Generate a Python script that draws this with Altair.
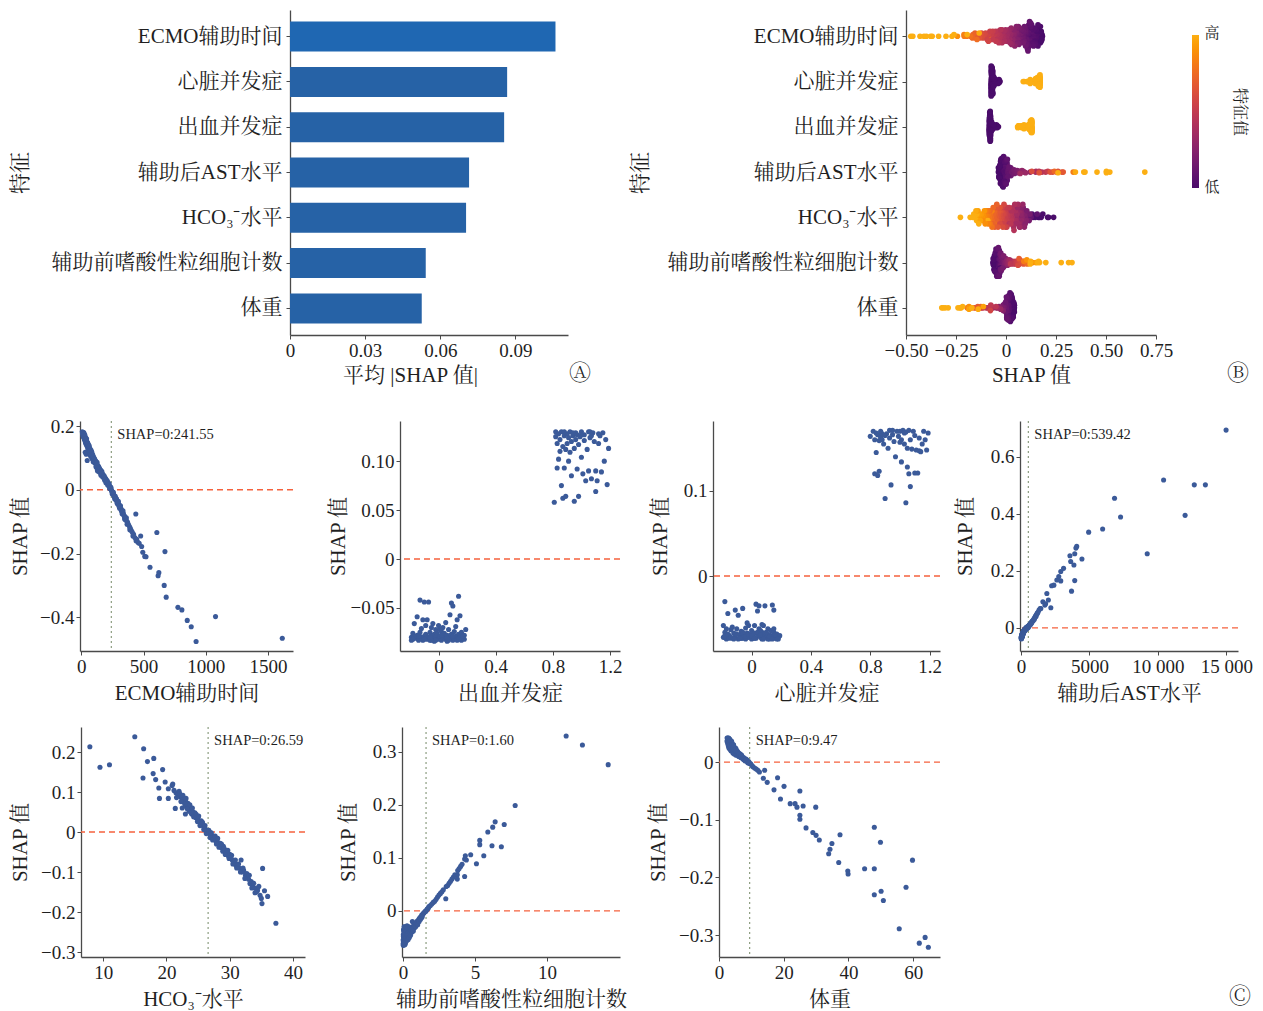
import json

import altair as alt
import numpy as np
import pandas as pd

FONT = "Liberation Serif, Noto Serif CJK SC, Noto Sans CJK SC, serif"
INK = "#1f1f1f"
SPINE = "#4a4a4a"
DOT = "#3b5a99"
ZERO_LINE = "#f5623e"
THRESH_LINE = "#8c9d80"

# Features ordered by importance
FEATURES = ["ECMO辅助时间", "心脏并发症", "出血并发症", "辅助后AST水平",
            "HCO₃⁻水平", "辅助前嗜酸性粒细胞计数", "体重"]
MEAN_ABS_SHAP = [0.1060, 0.0867, 0.0855, 0.0715, 0.0703, 0.0542, 0.0526]

# (feature value, SHAP value) per patient
ECMO_POINTS = [
    (8, 0.182), (12, 0.180), (14, 0.168), (15, 0.178), (18, 0.176), (20, 0.180), (22, 0.172), (24, 0.162),
    (25, 0.170), (28, 0.168), (30, 0.160), (32, 0.118), (33, 0.150), (35, 0.164), (38, 0.158), (40, 0.112),
    (42, 0.155), (44, 0.140), (45, 0.150), (48, 0.092), (50, 0.148), (52, 0.120), (54, 0.130), (55, 0.142),
    (58, 0.138), (60, 0.140), (62, 0.115), (65, 0.132), (66, 0.118), (68, 0.130), (70, 0.125), (72, 0.110),
    (75, 0.122), (76, 0.105), (78, 0.118), (80, 0.120), (84, 0.112), (86, 0.098), (88, 0.108), (90, 0.100),
    (95, 0.104), (96, 0.088), (100, 0.098), (105, 0.092), (108, 0.085), (110, 0.094), (115, 0.085), (118, 0.072),
    (120, 0.080), (125, 0.082), (128, 0.066), (130, 0.060), (135, 0.075), (138, 0.058), (140, 0.072), (145, 0.068),
    (148, 0.055), (150, 0.064), (155, 0.062), (158, 0.046), (160, 0.052), (165, 0.058), (170, 0.050), (172, 0.040),
    (175, 0.046), (180, 0.045), (185, 0.040), (188, 0.030), (190, 0.038), (195, 0.035), (198, 0.022), (200, 0.032),
    (205, 0.028), (210, 0.024), (212, 0.015), (215, 0.022), (220, 0.018), (225, 0.014), (228, 0.004), (230, 0.010),
    (235, 0.006), (240, 0.002), (245, -0.004), (248, -0.012), (250, -0.006), (255, -0.012), (260, -0.015),
    (265, -0.018), (268, -0.028), (270, -0.022), (275, -0.026), (280, -0.030), (285, -0.034), (288, -0.042),
    (290, -0.036), (295, -0.040), (300, -0.045), (305, -0.048), (308, -0.058), (310, -0.052), (318, -0.058),
    (325, -0.064), (328, -0.075), (330, -0.070), (338, -0.074), (345, -0.082), (348, -0.092), (350, -0.085),
    (358, -0.090), (365, -0.098), (368, -0.108), (372, -0.102), (380, -0.110), (388, -0.116), (390, -0.125),
    (395, -0.122), (402, -0.128), (410, -0.133), (415, -0.145), (420, -0.140), (430, -0.150), (438, -0.076),
    (440, -0.160), (445, -0.155), (455, -0.165), (465, -0.168), (477, -0.145), (485, -0.178), (494, -0.196),
    (510, -0.209), (520, -0.210), (552, -0.243), (607, -0.134), (617, -0.270), (623, -0.260), (666, -0.300),
    (672, -0.194), (682, -0.337), (776, -0.369), (808, -0.377), (851, -0.410), (883, -0.430), (922, -0.476),
    (1078, -0.398), (1614, -0.466),
    (10, 0.176), (16, 0.172), (19, 0.165), (23, 0.176), (26, 0.158), (29, 0.172), (31, 0.155), (34, 0.160),
    (36, 0.145), (39, 0.152), (41, 0.146), (43, 0.160), (46, 0.138), (49, 0.144), (51, 0.135), (53, 0.146),
    (56, 0.128), (59, 0.132), (61, 0.126), (63, 0.138), (67, 0.124), (69, 0.116), (71, 0.128), (74, 0.114),
    (77, 0.112), (79, 0.124), (82, 0.108), (85, 0.118), (89, 0.102), (92, 0.110), (94, 0.096), (98, 0.104),
    (102, 0.092), (106, 0.098), (112, 0.088), (116, 0.090), (122, 0.078), (127, 0.086), (132, 0.070),
    (137, 0.068), (142, 0.064), (147, 0.062), (152, 0.058), (157, 0.056), (162, 0.048), (167, 0.052),
    (178, 0.040), (183, 0.044), (192, 0.032), (202, 0.026), (208, 0.028), (218, 0.014), (223, 0.020),
    (233, 0.004), (238, 0.008), (243, -0.002), (253, -0.010), (258, -0.008), (263, -0.020), (273, -0.020),
    (278, -0.032), (283, -0.028), (293, -0.044), (298, -0.036), (303, -0.052), (315, -0.050), (322, -0.066),
    (335, -0.066), (342, -0.080), (355, -0.094), (362, -0.088),
]

# binary features: x already carries the display jitter around 0 and 1
BLEEDING_POINTS = [
    (-0.19, -0.080), (-0.18, -0.076), (-0.17, -0.066), (-0.16, -0.081), (-0.15, -0.078), (-0.15, -0.059),
    (-0.14, -0.083), (-0.13, -0.042), (-0.13, -0.075), (-0.12, -0.080), (-0.12, -0.071), (-0.11, -0.083),
    (-0.10, -0.044), (-0.10, -0.079), (-0.09, -0.077), (-0.09, -0.068), (-0.08, -0.082), (-0.08, -0.062),
    (-0.07, -0.044), (-0.07, -0.080), (-0.06, -0.075), (-0.06, -0.083), (-0.05, -0.070), (-0.05, -0.079),
    (-0.04, -0.081), (-0.04, -0.066), (-0.03, -0.077), (-0.03, -0.084), (-0.02, -0.072), (-0.02, -0.080),
    (-0.01, -0.076), (0.00, -0.082), (0.00, -0.068), (0.01, -0.079), (0.02, -0.074), (0.02, -0.083),
    (0.03, -0.070), (0.03, -0.080), (0.04, -0.076), (0.05, -0.082), (0.05, -0.065), (0.06, -0.078),
    (0.06, -0.084), (0.07, -0.072), (0.08, -0.080), (0.08, -0.057), (0.09, -0.077), (0.09, -0.045),
    (0.10, -0.083), (0.10, -0.048), (0.11, -0.074), (0.11, -0.081), (0.12, -0.069), (0.12, -0.079),
    (0.13, -0.083), (0.13, -0.062), (0.14, -0.038), (0.14, -0.077), (0.15, -0.080), (0.15, -0.058),
    (0.16, -0.075), (0.17, -0.081), (0.18, -0.078), (0.19, -0.072), (-0.19, -0.083), (-0.17, -0.079),
    (-0.11, -0.062), (-0.05, -0.083), (0.01, -0.072), (0.07, -0.083), (0.16, -0.083), (0.18, -0.082),
    (-0.18, -0.082), (-0.14, -0.079), (-0.10, -0.082), (-0.06, -0.080), (-0.02, -0.083), (0.02, -0.078),
    (0.06, -0.081), (0.10, -0.079), (0.14, -0.082), (0.17, -0.079),
    (0.81, 0.058), (0.82, 0.130), (0.82, 0.125), (0.83, 0.093), (0.83, 0.118), (0.84, 0.128), (0.84, 0.102),
    (0.85, 0.122), (0.86, 0.075), (0.86, 0.130), (0.87, 0.062), (0.87, 0.115), (0.88, 0.126), (0.88, 0.093),
    (0.89, 0.064), (0.89, 0.112), (0.90, 0.128), (0.90, 0.118), (0.91, 0.100), (0.91, 0.124), (0.92, 0.109),
    (0.92, 0.130), (0.93, 0.085), (0.93, 0.120), (0.94, 0.126), (0.95, 0.113), (0.95, 0.059), (0.96, 0.129),
    (0.96, 0.122), (0.97, 0.092), (0.97, 0.127), (0.98, 0.117), (0.98, 0.064), (0.99, 0.125), (1.00, 0.130),
    (1.00, 0.104), (1.01, 0.087), (1.02, 0.121), (1.02, 0.127), (1.03, 0.080), (1.04, 0.112), (1.05, 0.130),
    (1.05, 0.090), (1.06, 0.124), (1.07, 0.082), (1.08, 0.129), (1.09, 0.120), (1.10, 0.069), (1.10, 0.090),
    (1.11, 0.080), (1.12, 0.118), (1.13, 0.126), (1.14, 0.089), (1.15, 0.129), (1.16, 0.100), (1.18, 0.076),
    (1.19, 0.113), (1.17, 0.122), (0.85, 0.110), (1.07, 0.126), (0.88, 0.130), (0.94, 0.129), (1.00, 0.127),
    (1.06, 0.130), (1.12, 0.128),
]

CARDIAC_POINTS = [
    (-0.19, -0.072), (-0.18, -0.030), (-0.18, -0.066), (-0.17, -0.074), (-0.16, -0.044), (-0.15, -0.070),
    (-0.14, -0.063), (-0.13, -0.073), (-0.12, -0.067), (-0.11, -0.040), (-0.11, -0.071), (-0.10, -0.062),
    (-0.09, -0.074), (-0.09, -0.046), (-0.08, -0.069), (-0.07, -0.065), (-0.06, -0.073), (-0.06, -0.038),
    (-0.05, -0.070), (-0.04, -0.061), (-0.04, -0.074), (-0.03, -0.067), (-0.02, -0.072), (-0.02, -0.058),
    (-0.01, -0.069), (0.00, -0.074), (0.00, -0.064), (0.01, -0.071), (0.02, -0.058), (0.02, -0.067),
    (0.03, -0.033), (0.03, -0.073), (0.04, -0.041), (0.04, -0.069), (0.05, -0.062), (0.05, -0.035),
    (0.06, -0.072), (0.07, -0.066), (0.07, -0.074), (0.08, -0.058), (0.08, -0.070), (0.09, -0.035),
    (0.09, -0.067), (0.10, -0.072), (0.11, -0.062), (0.11, -0.074), (0.12, -0.069), (0.13, -0.064),
    (0.13, -0.073), (0.14, -0.034), (0.14, -0.070), (0.15, -0.040), (0.15, -0.066), (0.16, -0.073),
    (0.17, -0.068), (0.18, -0.072), (0.19, -0.070), (-0.19, -0.058), (-0.15, -0.073), (-0.07, -0.073),
    (0.01, -0.073), (0.06, -0.064), (0.12, -0.074), (0.17, -0.074),
    (-0.18, -0.070), (-0.16, -0.068), (-0.14, -0.072), (-0.12, -0.074), (-0.10, -0.068), (-0.08, -0.073),
    (-0.06, -0.066), (-0.04, -0.071), (-0.02, -0.068), (0.00, -0.070), (0.02, -0.073), (0.04, -0.066),
    (0.06, -0.069), (0.08, -0.074), (0.10, -0.066), (0.12, -0.071), (0.14, -0.074), (0.16, -0.069),
    (0.18, -0.074), (-0.13, -0.060), (-0.03, -0.055), (0.07, -0.057), (0.15, -0.062), (-0.17, -0.062),
    (0.80, 0.164), (0.82, 0.170), (0.83, 0.160), (0.83, 0.120), (0.84, 0.145), (0.85, 0.118), (0.85, 0.166),
    (0.86, 0.159), (0.86, 0.123), (0.87, 0.163), (0.88, 0.160), (0.89, 0.155), (0.90, 0.091), (0.91, 0.167),
    (0.92, 0.150), (0.93, 0.171), (0.93, 0.162), (0.94, 0.107), (0.95, 0.171), (0.96, 0.158), (0.97, 0.140),
    (0.98, 0.170), (0.99, 0.164), (1.00, 0.170), (1.01, 0.134), (1.01, 0.160), (1.02, 0.171), (1.03, 0.155),
    (1.04, 0.086), (1.04, 0.169), (1.05, 0.150), (1.05, 0.128), (1.06, 0.120), (1.06, 0.171), (1.07, 0.105),
    (1.07, 0.160), (1.08, 0.149), (1.09, 0.170), (1.10, 0.121), (1.11, 0.148), (1.12, 0.121), (1.13, 0.147),
    (1.14, 0.146), (1.15, 0.155), (1.17, 0.160), (1.18, 0.148), (1.19, 0.168), (0.88, 0.167), (1.00, 0.157),
    (0.84, 0.168), (0.90, 0.165), (0.95, 0.166), (1.03, 0.168), (1.10, 0.165), (1.16, 0.170), (0.87, 0.170),
    (1.13, 0.162),
]

AST_POINTS = [
    (20, -0.038), (25, -0.034), (30, -0.032), (35, -0.036), (40, -0.030), (45, -0.027), (50, -0.035),
    (55, -0.031), (60, -0.028), (65, -0.033), (70, -0.025), (75, -0.027), (80, -0.030), (85, -0.024),
    (90, -0.022), (95, -0.029), (100, -0.026), (105, -0.023), (110, -0.020), (115, -0.027), (120, -0.024),
    (125, -0.020), (130, -0.018), (135, -0.023), (140, -0.021), (145, -0.017), (150, -0.015), (160, -0.020),
    (165, -0.018), (175, -0.016), (180, -0.012), (190, -0.011), (195, -0.014), (205, -0.013), (210, -0.010),
    (220, -0.009), (225, -0.012), (235, -0.011), (240, -0.008), (250, -0.010), (255, -0.006), (270, -0.009),
    (280, -0.007), (290, -0.004), (300, -0.008), (310, -0.006), (320, -0.005), (330, -0.002), (350, -0.004),
    (360, -0.003), (370, 0.000), (390, -0.002), (400, -0.001), (410, 0.002), (430, 0.003), (440, 0.000),
    (450, 0.001), (480, 0.004), (500, 0.003), (510, 0.002), (540, 0.006), (560, 0.005), (570, 0.008),
    (600, 0.009), (620, 0.010), (640, 0.012), (680, 0.014), (700, 0.013), (720, 0.016), (760, 0.020),
    (780, 0.018), (800, 0.022), (850, 0.025), (880, 0.024), (900, 0.028), (950, 0.032), (980, 0.030),
    (1000, 0.036), (1060, 0.042), (1100, 0.040), (1120, 0.046), (1180, 0.050), (1200, 0.052), (1250, 0.056),
    (1320, 0.063), (1400, 0.068), (1450, 0.068), (1600, 0.092), (1745, 0.080), (1800, 0.085), (1890, 0.121),
    (2000, 0.098), (2180, 0.071), (2240, 0.148), (2400, 0.150), (2620, 0.168), (2760, 0.180), (2905, 0.198),
    (2905, 0.165), (3110, 0.209), (3575, 0.253), (3630, 0.233), (3690, 0.129), (3865, 0.221), (3925, 0.260),
    (3925, 0.166), (4010, 0.280), (4070, 0.286), (4450, 0.242), (4940, 0.336), (5960, 0.347), (6830, 0.455),
    (7270, 0.389), (9215, 0.260), (10410, 0.519), (11980, 0.395), (12650, 0.502), (13460, 0.502),
    (14970, 0.694),
    (22, -0.034), (28, -0.038), (33, -0.029), (38, -0.033), (42, -0.036), (48, -0.030), (52, -0.026),
    (58, -0.034), (62, -0.025), (68, -0.030), (72, -0.032), (78, -0.024), (82, -0.027), (88, -0.030),
    (92, -0.026), (98, -0.021), (108, -0.028), (112, -0.024), (118, -0.018), (128, -0.025), (138, -0.019),
    (148, -0.022), (155, -0.018), (170, -0.015), (185, -0.016), (200, -0.012), (215, -0.014), (230, -0.008),
    (245, -0.012), (265, -0.006), (285, -0.009), (305, -0.003), (340, -0.006), (380, -0.001), (420, -0.003),
    (460, 0.003), (520, 0.001), (580, 0.007), (660, 0.010), (740, 0.015),
]

HCO3_POINTS = [
    (7.9, 0.213), (9.5, 0.162), (11.0, 0.168), (15.0, 0.238), (16.4, 0.208), (16.3, 0.135), (17.0, 0.176),
    (18.0, 0.184), (17.9, 0.146), (18.3, 0.131), (18.8, 0.110), (18.9, 0.084), (19.4, 0.156), (19.8, 0.125),
    (20.3, 0.108), (20.3, 0.084), (21.0, 0.120), (20.9, 0.116), (21.4, 0.059),
    (21.5, 0.098), (21.8, 0.094), (22.0, 0.102), (22.2, 0.088), (22.4, 0.090), (22.5, 0.080), (22.5, 0.060),
    (22.7, 0.084), (22.8, 0.075), (23.0, 0.078), (23.0, 0.065), (23.0, 0.045), (23.2, 0.070), (23.4, 0.072),
    (23.5, 0.060), (23.6, 0.052), (23.8, 0.062), (24.0, 0.055), (24.0, 0.045), (24.2, 0.050), (24.4, 0.042),
    (24.5, 0.048), (24.6, 0.036), (24.8, 0.040), (25.0, 0.030), (25.0, 0.036), (25.2, 0.026), (25.4, 0.022),
    (25.5, 0.028), (25.6, 0.018), (25.8, 0.016), (26.0, 0.012), (26.0, 0.008), (26.2, 0.006), (26.4, 0.004),
    (26.5, 0.002), (26.6, -0.002), (26.8, 0.000), (27.0, -0.006), (27.0, -0.010), (27.2, -0.012),
    (27.4, -0.010), (27.5, -0.018), (27.6, -0.014), (27.8, -0.022), (28.0, -0.026), (28.0, -0.020),
    (28.2, -0.030), (28.4, -0.034), (28.5, -0.028), (28.6, -0.038), (28.8, -0.040), (29.0, -0.044),
    (29.0, -0.036), (29.2, -0.048), (29.4, -0.046), (29.5, -0.054), (29.6, -0.050), (29.8, -0.060),
    (30.0, -0.062), (30.0, -0.056), (30.3, -0.058), (30.4, -0.070), (30.6, -0.074), (30.8, -0.078),
    (31.0, -0.084), (31.2, -0.082), (31.5, -0.090), (31.8, -0.070), (31.8, -0.095), (32.0, -0.100),
    (32.2, -0.096), (32.5, -0.108), (32.8, -0.112), (33.0, -0.118), (33.2, -0.129), (33.4, -0.124),
    (33.6, -0.134), (34.0, -0.152), (34.0, -0.140), (34.4, -0.146), (34.8, -0.158), (35.1, -0.179),
    (35.2, -0.091), (35.5, -0.147), (36.0, -0.161), (37.3, -0.228),
    (21.2, 0.104), (21.6, 0.086), (22.1, 0.096), (22.3, 0.076), (22.6, 0.092), (22.9, 0.070), (23.1, 0.084),
    (23.3, 0.058), (23.7, 0.068), (23.9, 0.048), (24.1, 0.060), (24.3, 0.038), (24.7, 0.044), (24.9, 0.026),
    (25.1, 0.040), (25.3, 0.016), (25.7, 0.024), (25.9, 0.006), (26.1, 0.016), (26.3, -0.004), (26.7, 0.004),
    (26.9, -0.014), (27.1, -0.002), (27.3, -0.020), (27.7, -0.010), (27.9, -0.030), (28.1, -0.016),
    (28.3, -0.038), (28.7, -0.030), (28.9, -0.048), (29.1, -0.040), (29.3, -0.056), (29.7, -0.046),
    (29.9, -0.066), (30.2, -0.064), (30.5, -0.080), (30.9, -0.070), (31.1, -0.090), (31.4, -0.080),
    (31.7, -0.100), (32.1, -0.090), (32.4, -0.116), (32.7, -0.104), (33.1, -0.108), (33.5, -0.140),
    (33.8, -0.128), (34.2, -0.150), (34.6, -0.136), (35.0, -0.166),
]

EOS_POINTS = [
    (0.01, -0.055), (0.02, -0.065), (0.02, -0.045), (0.03, -0.058), (0.04, -0.050), (0.05, -0.062),
    (0.05, -0.035), (0.06, -0.040), (0.07, -0.064), (0.08, -0.055), (0.09, -0.048), (0.10, -0.060),
    (0.10, -0.030), (0.11, -0.058), (0.12, -0.048), (0.13, -0.040), (0.15, -0.056), (0.16, -0.062),
    (0.18, -0.035), (0.19, -0.045), (0.20, -0.052), (0.22, -0.044), (0.24, -0.057), (0.25, -0.050),
    (0.27, -0.038), (0.28, -0.028), (0.30, -0.046), (0.32, -0.040), (0.33, -0.052), (0.35, -0.048),
    (0.38, -0.036), (0.40, -0.044), (0.42, -0.030), (0.45, -0.038), (0.48, -0.047), (0.50, -0.042),
    (0.55, -0.032), (0.58, -0.040), (0.60, -0.036), (0.65, -0.020), (0.70, -0.030), (0.75, -0.027),
    (0.80, -0.032), (0.85, -0.024), (0.90, -0.026), (0.95, -0.020), (1.00, -0.022), (1.05, -0.018),
    (1.10, -0.016), (1.15, -0.014), (1.20, -0.012), (1.25, -0.011), (1.30, -0.008), (1.35, -0.008),
    (1.40, -0.005), (1.45, -0.004), (1.50, -0.002), (1.55, -0.001), (1.60, 0.000), (1.65, 0.002),
    (1.70, 0.004), (1.75, 0.005), (1.80, 0.008), (1.90, 0.010), (2.00, 0.013), (2.10, 0.016), (2.20, 0.018),
    (2.30, 0.022), (2.40, 0.026), (2.50, 0.030), (2.60, 0.033), (2.70, 0.036), (2.80, 0.040), (2.97, 0.023),
    (3.00, 0.046), (3.10, 0.048), (3.20, 0.052), (3.30, 0.056), (3.40, 0.060), (3.50, 0.064), (3.60, 0.068),
    (3.77, 0.068), (3.77, 0.060), (3.80, 0.076), (3.90, 0.080), (4.00, 0.084), (4.10, 0.088), (4.28, 0.098),
    (4.28, 0.065), (4.33, 0.104), (4.40, 0.096), (4.70, 0.106), (5.10, 0.089), (5.33, 0.133), (5.33, 0.125),
    (5.61, 0.104), (5.89, 0.149), (6.18, 0.123), (6.23, 0.158), (6.40, 0.168), (6.83, 0.121), (7.03, 0.163),
    (7.79, 0.199), (11.33, 0.330), (12.46, 0.313), (14.25, 0.276),
    (0.01, -0.062), (0.03, -0.048), (0.04, -0.036), (0.06, -0.058), (0.07, -0.045), (0.08, -0.030),
    (0.09, -0.060), (0.11, -0.040), (0.12, -0.064), (0.14, -0.052), (0.15, -0.034), (0.17, -0.050),
    (0.19, -0.058), (0.21, -0.038), (0.23, -0.050), (0.26, -0.044), (0.29, -0.054), (0.31, -0.032),
    (0.34, -0.042), (0.36, -0.054), (0.39, -0.046), (0.44, -0.050), (0.47, -0.034), (0.52, -0.046),
    (0.57, -0.036), (0.62, -0.040), (0.68, -0.034), (0.72, -0.038), (0.78, -0.026), (0.82, -0.028),
    (0.88, -0.030), (0.93, -0.024), (1.02, -0.026), (1.12, -0.020), (1.22, -0.016), (1.32, -0.012),
]

WEIGHT_POINTS = [
    (2.5, 0.042), (2.6, 0.038), (2.8, 0.040), (2.9, 0.035), (3.0, 0.042), (3.0, 0.030), (3.1, 0.038),
    (3.2, 0.034), (3.2, 0.026), (3.3, 0.040), (3.4, 0.036), (3.5, 0.030), (3.5, 0.022), (3.6, 0.034),
    (3.7, 0.028), (3.8, 0.036), (3.8, 0.020), (3.9, 0.030), (4.0, 0.026), (4.0, 0.033), (4.2, 0.028),
    (4.2, 0.020), (4.4, 0.030), (4.5, 0.024), (4.6, 0.018), (4.8, 0.026), (4.9, 0.020), (5.0, 0.022),
    (5.0, 0.015), (5.2, 0.024), (5.4, 0.018), (5.5, 0.020), (5.6, 0.014), (5.8, 0.018), (6.0, 0.016),
    (6.0, 0.012), (6.2, 0.015), (6.4, 0.012), (6.5, 0.010), (6.6, 0.014), (6.8, 0.010), (7.0, 0.008),
    (7.0, 0.012), (7.2, 0.009), (7.5, 0.006), (7.6, 0.008), (7.8, 0.005), (8.0, 0.004), (8.2, 0.006),
    (8.5, 0.002), (8.6, 0.004), (8.8, 0.001), (9.0, 0.000), (9.2, 0.001), (9.5, -0.002), (9.8, -0.003),
    (10.2, -0.006), (10.5, -0.008), (11.0, -0.010), (11.5, -0.012), (12.0, -0.014),
    (2.5, 0.036), (2.7, 0.042), (2.7, 0.032), (2.9, 0.028), (3.0, 0.036), (3.1, 0.024), (3.3, 0.030),
    (3.4, 0.024), (3.5, 0.038), (3.6, 0.026), (3.7, 0.020), (3.9, 0.036), (4.1, 0.030), (4.1, 0.022),
    (4.3, 0.026), (4.3, 0.016), (4.5, 0.030), (4.7, 0.022), (4.7, 0.014), (5.1, 0.018), (5.3, 0.020),
    (5.3, 0.012), (5.7, 0.016), (5.9, 0.012), (6.1, 0.010), (6.3, 0.014), (6.7, 0.008), (6.9, 0.012),
    (7.3, 0.006), (7.7, 0.004), (8.1, 0.002), (8.4, 0.004), (8.9, -0.001), (9.3, -0.002),
    (12.5, -0.017), (14.1, -0.014), (13.7, -0.028), (14.9, -0.035), (17.0, -0.048), (18.1, -0.027),
    (19.0, -0.064), (20.1, -0.042), (22.0, -0.072), (23.5, -0.072), (24.1, -0.078), (25.0, -0.050),
    (25.0, -0.092), (25.0, -0.099), (26.0, -0.076), (26.9, -0.114), (29.9, -0.078), (29.0, -0.122),
    (30.0, -0.127), (31.0, -0.135), (33.9, -0.159), (34.3, -0.151), (34.9, -0.141), (37.0, -0.174),
    (37.4, -0.126), (39.8, -0.189), (39.9, -0.194), (45.0, -0.185), (48.0, -0.113), (48.0, -0.185),
    (48.0, -0.230), (49.9, -0.139), (50.1, -0.224), (50.8, -0.240), (55.7, -0.289), (57.8, -0.217),
    (59.8, -0.170), (61.9, -0.314), (63.7, -0.304), (64.7, -0.321),
]

POINTS = {
    "ECMO辅助时间": ECMO_POINTS,
    "心脏并发症": CARDIAC_POINTS,
    "出血并发症": BLEEDING_POINTS,
    "辅助后AST水平": AST_POINTS,
    "HCO₃⁻水平": HCO3_POINTS,
    "辅助前嗜酸性粒细胞计数": EOS_POINTS,
    "体重": WEIGHT_POINTS,
}
BINARY = {"心脏并发症", "出血并发症"}

# feature value where the fitted SHAP curve crosses zero
THRESHOLDS = {
    "ECMO辅助时间": 241.55,
    "辅助后AST水平": 539.42,
    "HCO₃⁻水平": 26.59,
    "辅助前嗜酸性粒细胞计数": 1.60,
    "体重": 9.47,
}


def zero_or(fmt):
    return f"datum.value == 0 ? '0' : format(datum.value, '{fmt}')"


def normalized_feature(values):
    v = np.asarray(values, dtype=float)
    lo, hi = np.nanpercentile(v, 5), np.nanpercentile(v, 95)
    if hi <= lo:
        lo, hi = v.min(), v.max()
    return np.clip((v - lo) / (hi - lo), 0, 1)


def swarm_offsets(shap_values, nbins=40, row_height=0.4):
    s = np.asarray(shap_values, dtype=float)
    quant = np.round(nbins * (s - s.min()) / (s.max() - s.min() + 1e-8))
    order = np.argsort(quant, kind="stable")
    ys = np.zeros(len(s))
    layer, last_bin = 0, -1
    for i in order:
        if quant[i] != last_bin:
            layer = 0
        ys[i] = np.ceil(layer / 2) * ((layer % 2) * 2 - 1)
        layer += 1
        last_bin = quant[i]
    return ys * 0.9 * (row_height / np.max(ys + 1))


def one_row():
    return pd.DataFrame({"k": [0]})


def spacer(w, h):
    return alt.Chart(one_row()).mark_point(opacity=0, size=0).encode(
        x=alt.X("k:Q", axis=None), y=alt.Y("k:Q", axis=None)
    ).properties(width=w, height=h)


def corner_mark(symbol, px, py):
    return alt.Chart(one_row()).mark_text(
        text=symbol, font=FONT, fontSize=22, color=INK, align="center", baseline="middle"
    ).encode(x=alt.value(px), y=alt.value(py))


# ---- A: mean |SHAP| bar chart ----
bar_df = pd.DataFrame({"feature": FEATURES, "mean_abs": MEAN_ABS_SHAP})
bars = alt.Chart(bar_df).mark_bar().encode(
    y=alt.Y("feature:N", sort=FEATURES, title="特征",
            scale=alt.Scale(paddingInner=0.338, paddingOuter=0.256),
            axis=alt.Axis(labelFontSize=21, titleX=-260, labelPadding=4, labelLimit=0)),
    x=alt.X("mean_abs:Q", title="平均 |SHAP 值|",
            scale=alt.Scale(domain=[0, 0.111], nice=False, zero=True),
            axis=alt.Axis(values=[0, 0.03, 0.06, 0.09], labelExpr=zero_or(".2f"), titleX=120)),
    color=alt.condition(alt.datum.feature == FEATURES[0], alt.value("#1f67b2"), alt.value("#2662a6")),
)
panel_a = alt.layer(bars, corner_mark("Ⓐ", 290, 363)).properties(width=278, height=325)

# ---- B: beeswarm summary ----
bee_rows = []
for r, name in enumerate(FEATURES):
    pts = np.asarray(POINTS[name], dtype=float)
    fvals = np.round(pts[:, 0]) if name in BINARY else pts[:, 0]
    cval = normalized_feature(fvals)
    offs = swarm_offsets(pts[:, 1])
    for s, c, o in zip(pts[:, 1], cval, offs):
        bee_rows.append({"row": r - o, "shap": s, "cval": c})
bee_df = pd.DataFrame(bee_rows)

label_list = json.dumps(FEATURES, ensure_ascii=False)
bee = alt.Chart(bee_df).mark_circle(size=32, opacity=1).encode(
    x=alt.X("shap:Q", title="SHAP 值", scale=alt.Scale(domain=[-0.5, 0.75], nice=False, zero=False),
            axis=alt.Axis(values=[-0.5, -0.25, 0, 0.25, 0.5, 0.75], labelExpr=zero_or(".2f"))),
    y=alt.Y("row:Q", title="特征", scale=alt.Scale(domain=[-0.58, 6.6], reverse=True, nice=False, zero=False),
            axis=alt.Axis(values=list(range(len(FEATURES))), labelExpr=f"{label_list}[datum.value]",
                          labelFontSize=21, titleX=-256, labelPadding=4, labelLimit=0)),
    color=alt.Color("cval:Q",
                    scale=alt.Scale(domain=[0, 1], scheme=alt.SchemeParams(name="inferno", extent=[0.22, 0.82])),
                    legend=alt.Legend(orient="none", legendX=286, legendY=25, direction="vertical",
                                      gradientLength=153, gradientThickness=7, gradientStrokeWidth=0,
                                      labelExpr="''", title=None)),
)
bar_text = dict(font=FONT, color=INK, align="center", baseline="middle")
high_lbl = alt.Chart(one_row()).mark_text(text="高", fontSize=15, **bar_text).encode(
    x=alt.value(306), y=alt.value(23))
low_lbl = alt.Chart(one_row()).mark_text(text="低", fontSize=15, **bar_text).encode(
    x=alt.value(306), y=alt.value(177))
cbar_title = alt.Chart(one_row()).mark_text(text="特征值", fontSize=16, angle=90, **bar_text).encode(
    x=alt.value(334), y=alt.value(102))
panel_b = alt.layer(bee, high_lbl, low_lbl, cbar_title, corner_mark("Ⓑ", 332, 363)).properties(
    width=250, height=325)


# ---- C: dependence plots ----
def dependence(name, xdom, ydom, xticks, yticks, xfmt, yfmt, width, ytitle_x, height=230, extra=()):
    df = pd.DataFrame(POINTS[name], columns=["x", "shap"])
    x_enc = alt.X("x:Q", title=name, scale=alt.Scale(domain=xdom, nice=False, zero=False),
                  axis=alt.Axis(values=xticks, labelExpr=xfmt, titlePadding=6))
    y_enc = alt.Y("shap:Q", title="SHAP 值", scale=alt.Scale(domain=ydom, nice=False, zero=False),
                  axis=alt.Axis(values=yticks, labelExpr=yfmt, titleX=ytitle_x, labelPadding=2))
    layers = [
        alt.Chart(pd.DataFrame({"shap": [0.0]})).mark_rule(
            color=ZERO_LINE, strokeDash=[6, 4], strokeWidth=1.4).encode(y=y_enc)
    ]
    if name in THRESHOLDS:
        thr = THRESHOLDS[name]
        tdf = pd.DataFrame({"x": [thr], "label": [f"SHAP=0:{thr:.2f}"]})
        layers.append(alt.Chart(tdf).mark_rule(
            color=THRESH_LINE, strokeDash=[2, 3], strokeWidth=1.2).encode(x=x_enc))
        layers.append(alt.Chart(tdf).mark_text(
            align="left", baseline="middle", dx=6, font=FONT, fontSize=14.5, color=INK
        ).encode(x=x_enc, y=alt.value(14), text="label:N"))
    layers.append(alt.Chart(df).mark_circle(size=26, color=DOT, opacity=1).encode(x=x_enc, y=y_enc))
    layers.extend(extra)
    return alt.layer(*layers).properties(width=width, height=height)


p1 = dependence("ECMO辅助时间", [-10, 1700], [-0.506, 0.216], [0, 500, 1000, 1500], [-0.4, -0.2, 0, 0.2],
                "format(datum.value, 'd')", zero_or(".1f"), 213, -50)
p2 = dependence("出血并发症", [-0.27, 1.27], [-0.094, 0.141], [0, 0.4, 0.8, 1.2], [-0.05, 0, 0.05, 0.10],
                zero_or(".1f"), zero_or(".2f"), 220, -52)
p3 = dependence("心脏并发症", [-0.26, 1.27], [-0.088, 0.182], [0, 0.4, 0.8, 1.2], [0, 0.1],
                zero_or(".1f"), zero_or(".1f"), 227, -43)
p4 = dependence("辅助后AST水平", [-70, 15840], [-0.081, 0.726], [0, 5000, 10000, 15000], [0, 0.2, 0.4, 0.6],
                "datum.value >= 10000 ? replace(format(datum.value, ','), ',', ' ') : format(datum.value, 'd')",
                zero_or(".1f"), 218, -45)
p5 = dependence("HCO₃⁻水平", [6.5, 41.9], [-0.3125, 0.2625], [10, 20, 30, 40], [-0.3, -0.2, -0.1, 0, 0.1, 0.2],
                "format(datum.value, 'd')", zero_or(".1f"), 224, -51)
p6 = dependence("辅助前嗜酸性粒细胞计数", [-0.07, 15.07], [-0.087, 0.347], [0, 5, 10], [0, 0.1, 0.2, 0.3],
                "format(datum.value, 'd')", zero_or(".1f"), 218, -44)
p7 = dependence("体重", [0, 68.3], [-0.338, 0.061], [0, 20, 40, 60], [-0.3, -0.2, -0.1, 0],
                "format(datum.value, 'd')", zero_or(".1f"), 221, -51, extra=(corner_mark("Ⓒ", 521, 269),))

# rows: leading spacers fix where each plot area starts
top_row = alt.hconcat(spacer(290, 325), panel_a, spacer(338, 325), panel_b,
                      spacing=0, bounds="flush").resolve_scale(color="independent")
row1 = alt.hconcat(spacer(80, 230), p1, spacer(107, 230), p2, spacer(93, 230), p3, spacer(80, 230), p4,
                   spacing=0, bounds="flush")
row2 = alt.hconcat(spacer(81, 230), p5, spacer(97, 230), p6, spacer(99, 230), p7,
                   spacing=0, bounds="flush")

chart = alt.vconcat(
    top_row, spacer(10, 32), row1, spacer(10, 23), row2, spacing=0
).resolve_scale(color="independent").properties(
    padding={"left": 0, "top": 10, "right": 5, "bottom": 5}, background="white"
).configure_view(stroke=None).configure_axis(
    grid=False, domainColor=SPINE, domainWidth=1.3, tickColor=SPINE, tickSize=4, tickWidth=1,
    labelFont=FONT, labelFontSize=19, labelColor=INK, labelOverlap=False, labelFlush=False,
    titleFont=FONT, titleFontSize=21, titleFontWeight="normal", titleColor=INK,
)

chart.save("out.html", embed_options={"renderer": "svg", "actions": False})
